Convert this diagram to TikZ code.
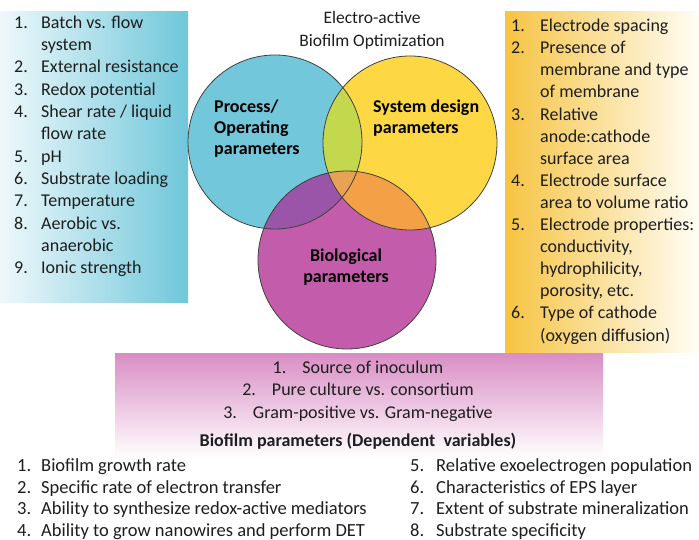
\documentclass[tikz,border=0pt]{standalone}
\usepackage{fontspec}
\setmainfont{Carlito}
\usepackage{array}
\definecolor{leftL}{HTML}{EEF8FB}
\definecolor{leftR}{HTML}{6FC7DA}
\definecolor{rightL}{HTML}{F6C443}
\definecolor{rightR}{HTML}{FFFDF6}
\definecolor{pinkT}{HTML}{D98DC4}
\definecolor{cyanc}{HTML}{72C7DA}
\definecolor{yelc}{HTML}{FDD844}
\definecolor{magc}{HTML}{C35DAB}
\definecolor{cyyel}{HTML}{C3D84C}
\definecolor{cymag}{HTML}{9A55A8}
\definecolor{yelmag}{HTML}{F3A046}
\definecolor{allc}{HTML}{E8A253}
\definecolor{txt}{HTML}{1E1E1E}
\tikzset{
  outl/.style={draw=black!75, line width=0.8pt},
  listtxt/.style={inner sep=0pt, text=txt, anchor=north west, align=left},
  circtxt/.style={inner sep=0pt, text=black, font=\fontsize{18}{21}\selectfont\bfseries},
}
\newcommand{\lst}[3]{\fontsize{#3}{#2}\selectfont\renewcommand{\arraystretch}{1}%
  \begin{tabular}{@{}p{#1}@{}l@{}}}
\begin{document}
\begin{tikzpicture}[x=1pt,y=-1pt]
\useasboundingbox (0,0) rectangle (699,540);
\fill[white] (0,0) rectangle (699,540);
% side boxes
\shade[left color=leftL, right color=leftR] (0,12) rectangle (188,302);
\shade[left color=rightL, right color=rightR] (505,12) rectangle (699,352);
\shade[top color=pinkT, bottom color=white] (115,353) rectangle (603,458);
% circles
\coordinate (cC) at (275,142);
\coordinate (cY) at (410,143);
\coordinate (cM) at (347,260);
\fill[cyanc] (cC) circle (87pt);
\fill[yelc] (cY) circle (87pt);
\begin{scope}\clip (cC) circle (87pt); \fill[cyyel] (cY) circle (87pt);\end{scope}
\fill[magc] (cM) circle (89pt);
\begin{scope}
  \clip (cM) circle (89pt);
  \fill[cymag] (cC) circle (87pt);
  \fill[yelmag] (cY) circle (87pt);
  \clip (cC) circle (87pt);
  \fill[allc] (cY) circle (87pt);
\end{scope}
\draw[outl] (cC) circle (87pt);
\draw[outl] (cY) circle (87pt);
\draw[outl] (cM) circle (89pt);
% title
\node[inner sep=0pt, text=txt, align=center, font=\fontsize{17.5}{23}\selectfont] (title) at (372,30) {Electro-active\\Biofilm Optimization};
% circle labels
\node[circtxt, anchor=west, align=left] (proc) at (214,129) {Process/\\Operating\\parameters};
\node[circtxt, anchor=west, align=left] (sysd) at (373,118) {System design\\parameters};
\node[circtxt, align=center] (bio) at (346,267) {Biological\\parameters};
% left list
\node[listtxt] (leftlist) at (14,12.5) {\lst{27pt}{22.3}{18}
1. & Batch vs. flow\\
   & system\\
2. & External resistance\\
3. & Redox potential\\
4. & Shear rate / liquid\\
   & flow rate\\
5. & pH\\
6. & Substrate loading\\
7. & Temperature\\
8. & Aerobic vs.\\
   & anaerobic\\
9. & Ionic strength
\end{tabular}};
% right list
\node[listtxt] (rightlist) at (511,16) {\lst{29pt}{22.1}{18}
1. & Electrode spacing\\
2. & Presence of\\
   & membrane and type\\
   & of membrane\\
3. & Relative\\
   & anode:cathode\\
   & surface area\\
4. & Electrode surface\\
   & area to volume ratio\\
5. & Electrode properties:\\
   & conductivity,\\
   & hydrophilicity,\\
   & porosity, etc.\\
6. & Type of cathode\\
   & (oxygen diffusion)
\end{tabular}};
% pink box items
\node[inner sep=0pt, text=txt, align=center, font=\fontsize{18}{22.5}\selectfont] (biol) at (358,391)
 {1.\hspace{16pt}Source of inoculum\\2.\hspace{16pt}Pure culture vs. consortium\\3.\hspace{16pt}Gram-positive vs. Gram-negative};
\node[inner sep=0pt, text=txt, font=\fontsize{18}{20}\selectfont\bfseries] (bfp) at (358,441) {Biofilm parameters (Dependent\ \ variables)};
% bottom lists
\node[listtxt] (bl1) at (17,456) {\lst{24pt}{21.7}{18.5}
1. & Biofilm growth rate\\
2. & Specific rate of electron transfer\\
3. & Ability to synthesize redox-active mediators\\
4. & Ability to grow nanowires and perform DET
\end{tabular}};
\node[listtxt] (bl2) at (410,456) {\lst{26pt}{21.7}{18.5}
5. & Relative exoelectrogen population\\
6. & Characteristics of EPS layer\\
7. & Extent of substrate mineralization\\
8. & Substrate specificity
\end{tabular}};
\end{tikzpicture}
\end{document}
